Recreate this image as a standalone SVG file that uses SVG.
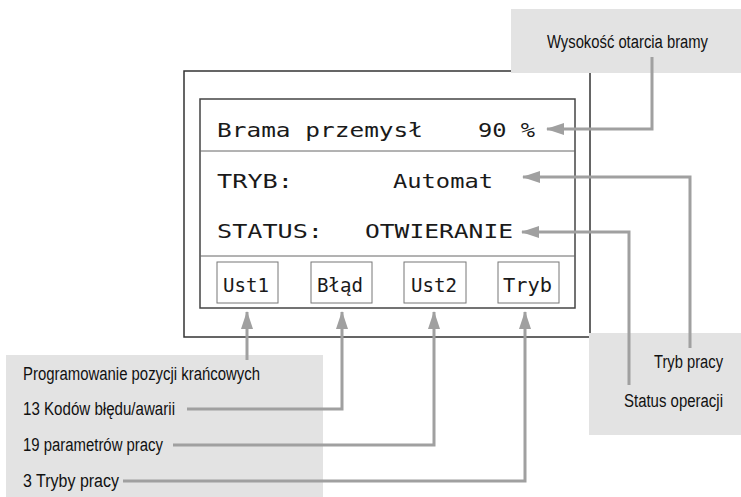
<svg xmlns="http://www.w3.org/2000/svg" width="741" height="497" viewBox="0 0 741 497">
<style>
.lcd{font-family:"DejaVu Sans Mono","Liberation Mono",monospace;font-size:20px;fill:#1a1a1a}
.lab{font-family:"Liberation Sans",Arial,sans-serif;font-size:18px;fill:#111}
.note{fill:#e3e3e3;stroke:none}
.btn{fill:#fff;stroke:#777;stroke-width:1}
.conn{fill:none;stroke:#a0a0a0;stroke-width:3;marker-end:url(#ah)}
</style>
<defs>
<marker id="ah" viewBox="0 0 18 12" refX="17" refY="6" markerWidth="18" markerHeight="12" markerUnits="userSpaceOnUse" orient="auto">
<path d="M0,0 L18,6 L0,12 Z" fill="#a0a0a0"/>
</marker>
</defs>
<rect width="741" height="497" fill="#fff"/>
<g id="device">
<rect x="184" y="71" width="406" height="266" fill="#fff" stroke="#333" stroke-width="1.5"/>
</g>
<g id="display">
<rect x="200" y="99" width="375" height="209" fill="#fff" stroke="#444" stroke-width="1.5"/>
<line x1="200" y1="151" x2="575" y2="151" stroke="#666" stroke-width="1"/>
<line x1="200" y1="256" x2="575" y2="256" stroke="#666" stroke-width="1"/>
<text class="lcd" x="217" y="137" textLength="206" lengthAdjust="spacingAndGlyphs">Brama przemysł</text>
<text class="lcd" x="478" y="137" textLength="57" lengthAdjust="spacingAndGlyphs">90 %</text>
<text class="lcd" x="217" y="188" textLength="76" lengthAdjust="spacingAndGlyphs">TRYB:</text>
<text class="lcd" x="393" y="188" textLength="100" lengthAdjust="spacingAndGlyphs">Automat</text>
<text class="lcd" x="217" y="238" textLength="106" lengthAdjust="spacingAndGlyphs">STATUS:</text>
<text class="lcd" x="365" y="238" textLength="148" lengthAdjust="spacingAndGlyphs">OTWIERANIE</text>
</g>
<g id="btn-ust1">
<rect class="btn" x="217" y="262" width="61" height="41"/>
<text class="lcd" x="223" y="292" textLength="46" lengthAdjust="spacingAndGlyphs">Ust1</text>
</g>
<g id="btn-blad">
<rect class="btn" x="311" y="262" width="61" height="41"/>
<text class="lcd" x="317" y="292" textLength="46" lengthAdjust="spacingAndGlyphs">Błąd</text>
</g>
<g id="btn-ust2">
<rect class="btn" x="404" y="262" width="62" height="41"/>
<text class="lcd" x="411" y="292" textLength="46" lengthAdjust="spacingAndGlyphs">Ust2</text>
</g>
<g id="btn-tryb">
<rect class="btn" x="498" y="262" width="61" height="41"/>
<text class="lcd" x="503" y="292" textLength="49" lengthAdjust="spacingAndGlyphs">Tryb</text>
</g>
<g id="note-wysokosc">
<rect class="note" x="511" y="9" width="230" height="64"/>
<text class="lab" x="547" y="48" textLength="161" lengthAdjust="spacingAndGlyphs">Wysokość otarcia bramy</text>
</g>
<g id="note-status">
<rect class="note" x="589" y="333" width="152" height="102"/>
<text class="lab" x="654" y="368" textLength="69" lengthAdjust="spacingAndGlyphs">Tryb pracy</text>
<text class="lab" x="624" y="407" textLength="99" lengthAdjust="spacingAndGlyphs">Status operacji</text>
</g>
<g id="note-functions">
<rect class="note" x="6" y="355" width="317" height="142"/>
<text class="lab" x="23" y="380" textLength="237" lengthAdjust="spacingAndGlyphs">Programowanie pozycji krańcowych</text>
<text class="lab" x="23" y="415" textLength="152" lengthAdjust="spacingAndGlyphs">13 Kodów błędu/awarii</text>
<text class="lab" x="23" y="451" textLength="140" lengthAdjust="spacingAndGlyphs">19 parametrów pracy</text>
<text class="lab" x="23" y="487" textLength="96" lengthAdjust="spacingAndGlyphs">3 Tryby pracy</text>
</g>
<g id="connectors">
<polyline class="conn" points="652,57 652,129 547,129"/>
<polyline class="conn" points="690,348 690,177 523,177"/>
<polyline class="conn" points="629,385 629,232 522,232"/>
<polyline class="conn" points="247,360 247,312"/>
<polyline class="conn" points="187,409 342,409 342,312"/>
<polyline class="conn" points="173,445 434,445 434,312"/>
<polyline class="conn" points="123,481 525,481 525,312"/>
</g>
</svg>
